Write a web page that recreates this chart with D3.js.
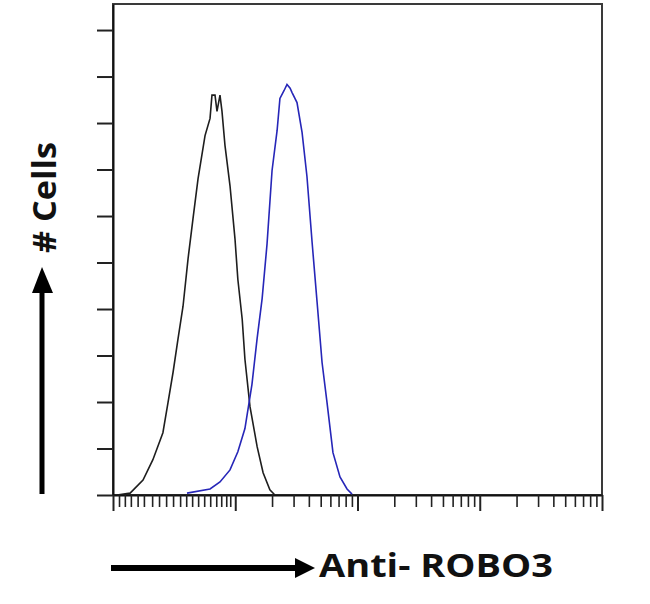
<!DOCTYPE html>
<html>
<head>
<meta charset="utf-8">
<script src="https://cdn.jsdelivr.net/npm/d3@7"></script>
<style>
  html, body { margin: 0; padding: 0; background: #fff; }
  svg { display: block; }
</style>
</head>
<body>
<svg id="chart" width="650" height="604"></svg>
<script>
// ---------------- data ----------------
// Isotype control (black) histogram: fluorescence intensity vs count
const controlX = [1.08, 1.38, 1.76, 2.12, 2.56, 2.82, 3.10, 3.40, 3.74, 4.11, 4.51, 4.96, 5.66, 6.22, 6.45, 6.83, 7.09, 7.50, 7.79, 8.24, 9.06, 9.95, 10.5, 11.4, 12.0, 13.2, 15.1, 16.9, 19.2, 21.1];
const controlY = [0, 4, 32, 76, 134, 199, 264, 335, 406, 508, 594, 680, 773, 810, 860, 860, 825, 860, 825, 752, 665, 551, 464, 378, 292, 190, 104, 48, 11, 0];
// Anti-ROBO3 stained (blue) histogram
const stainX = [4.03, 6.22, 7.50, 9.06, 10.5, 12.0, 13.7, 15.1, 16.6, 18.2, 20.0, 22.0, 23.2, 25.1, 26.5, 28.1, 29.1, 32.0, 35.2, 38.6, 42.5, 46.7, 51.3, 56.3, 63.0, 71.9, 82.1, 90.2];
const stainY = [4, 13, 28, 54, 93, 143, 238, 337, 423, 540, 698, 784, 853, 870, 883, 875, 866, 844, 780, 685, 544, 415, 285, 199, 91, 39, 13, 2];

// axis tick values
const yTickValues = [0, 100, 200, 300, 400, 500, 600, 700, 800, 900, 1000];
const xMajorTicks = [1, 10, 100, 1000, 10000];
const xFirstDecadeTicks = [1.12, 1.25, 1.40, 1.59, 1.79, 2.09, 2.38, 2.72, 3.10, 3.54, 3.97, 4.44, 4.97, 5.57, 6.24, 6.99, 7.68, 8.44, 9.10];
const xMinorMultipliers = [2, 3, 4, 5, 6, 7, 8, 9];
const xMinorDecades = [10, 100, 1000];

const xLabel = "Anti- ROBO3";
const yLabel = "# Cells";

// ---------------- drawing ----------------
(function () {
const svg = d3.select("#chart");
const mLeft = 113, mRight = 602, mTop = 4, mBottom = 495;

const x = d3.scaleLog().domain([1, 10000]).range([mLeft, mRight]);
const y = d3.scaleLinear().domain([0, 1056]).range([mBottom, mTop]);

// frame
svg.append("rect")
  .attr("x", mLeft).attr("y", mTop)
  .attr("width", mRight - mLeft).attr("height", mBottom - mTop)
  .attr("fill", "none").attr("stroke", "#3a3a3a").attr("stroke-width", 2);

// y axis
const yAxis = svg.append("g")
  .attr("transform", `translate(${mLeft},0)`)
  .call(d3.axisLeft(y).tickValues(yTickValues).tickSize(16).tickSizeOuter(0).tickFormat(""));
yAxis.select(".domain").attr("stroke", "#111").attr("stroke-width", 2);
yAxis.selectAll(".tick line").attr("stroke", "#222").attr("stroke-width", 2);

// x axis: minor ticks
const xMinor = xFirstDecadeTicks.concat(
  xMinorDecades.flatMap(d => xMinorMultipliers.map(m => m * d))
);
const xAxisMinor = svg.append("g")
  .attr("transform", `translate(0,${mBottom})`)
  .call(d3.axisBottom(x).tickValues(xMinor).tickSize(12).tickSizeOuter(0).tickFormat(""));
xAxisMinor.select(".domain").attr("stroke", "#111").attr("stroke-width", 2);
xAxisMinor.selectAll(".tick line").attr("stroke", "#222").attr("stroke-width", 1.6);

const xAxisMajor = svg.append("g")
  .attr("transform", `translate(0,${mBottom})`)
  .call(d3.axisBottom(x).tickValues(xMajorTicks).tickSize(16).tickSizeOuter(0).tickFormat(""));
xAxisMajor.select(".domain").remove();
xAxisMajor.selectAll(".tick line").attr("stroke", "#222").attr("stroke-width", 2);

// histogram lines
const line = d3.line().x(d => x(d[0])).y(d => y(d[1])).curve(d3.curveLinear);
svg.append("path")
  .datum(controlX.map((v, i) => [v, controlY[i]]))
  .attr("d", line)
  .attr("fill", "none").attr("stroke", "#1e1e1e").attr("stroke-width", 1.6)
  .attr("stroke-linejoin", "miter");
svg.append("path")
  .datum(stainX.map((v, i) => [v, stainY[i]]))
  .attr("d", line)
  .attr("fill", "none").attr("stroke", "#2626b8").attr("stroke-width", 1.6)
  .attr("stroke-linejoin", "miter");

// vertical arrow
svg.append("line").attr("x1", 42).attr("x2", 42).attr("y1", 494).attr("y2", 290)
  .attr("stroke", "#000").attr("stroke-width", 5);
svg.append("path").attr("d", "M42,267 L32,293 L53,293 Z").attr("fill", "#000");

// horizontal arrow
svg.append("line").attr("x1", 111).attr("x2", 298).attr("y1", 568).attr("y2", 568)
  .attr("stroke", "#000").attr("stroke-width", 6);
svg.append("path").attr("d", "M315,568 L295,558 L295,578 Z").attr("fill", "#000");

// labels
svg.append("text")
  .attr("x", 319).attr("y", 577)
  .attr("font-family", "'Open Sans', 'Liberation Sans', sans-serif")
  .attr("font-weight", "bold").attr("font-size", 33)
  .attr("textLength", 234).attr("lengthAdjust", "spacingAndGlyphs")
  .attr("fill", "#111")
  .text(xLabel);

svg.append("text")
  .attr("transform", "translate(56,253) rotate(-90)")
  .attr("font-family", "'Open Sans', 'Liberation Sans', sans-serif")
  .attr("font-weight", "bold").attr("font-size", 32)
  .attr("textLength", 111).attr("lengthAdjust", "spacingAndGlyphs")
  .attr("fill", "#111")
  .text(yLabel);
})();
</script>
</body>
</html>
